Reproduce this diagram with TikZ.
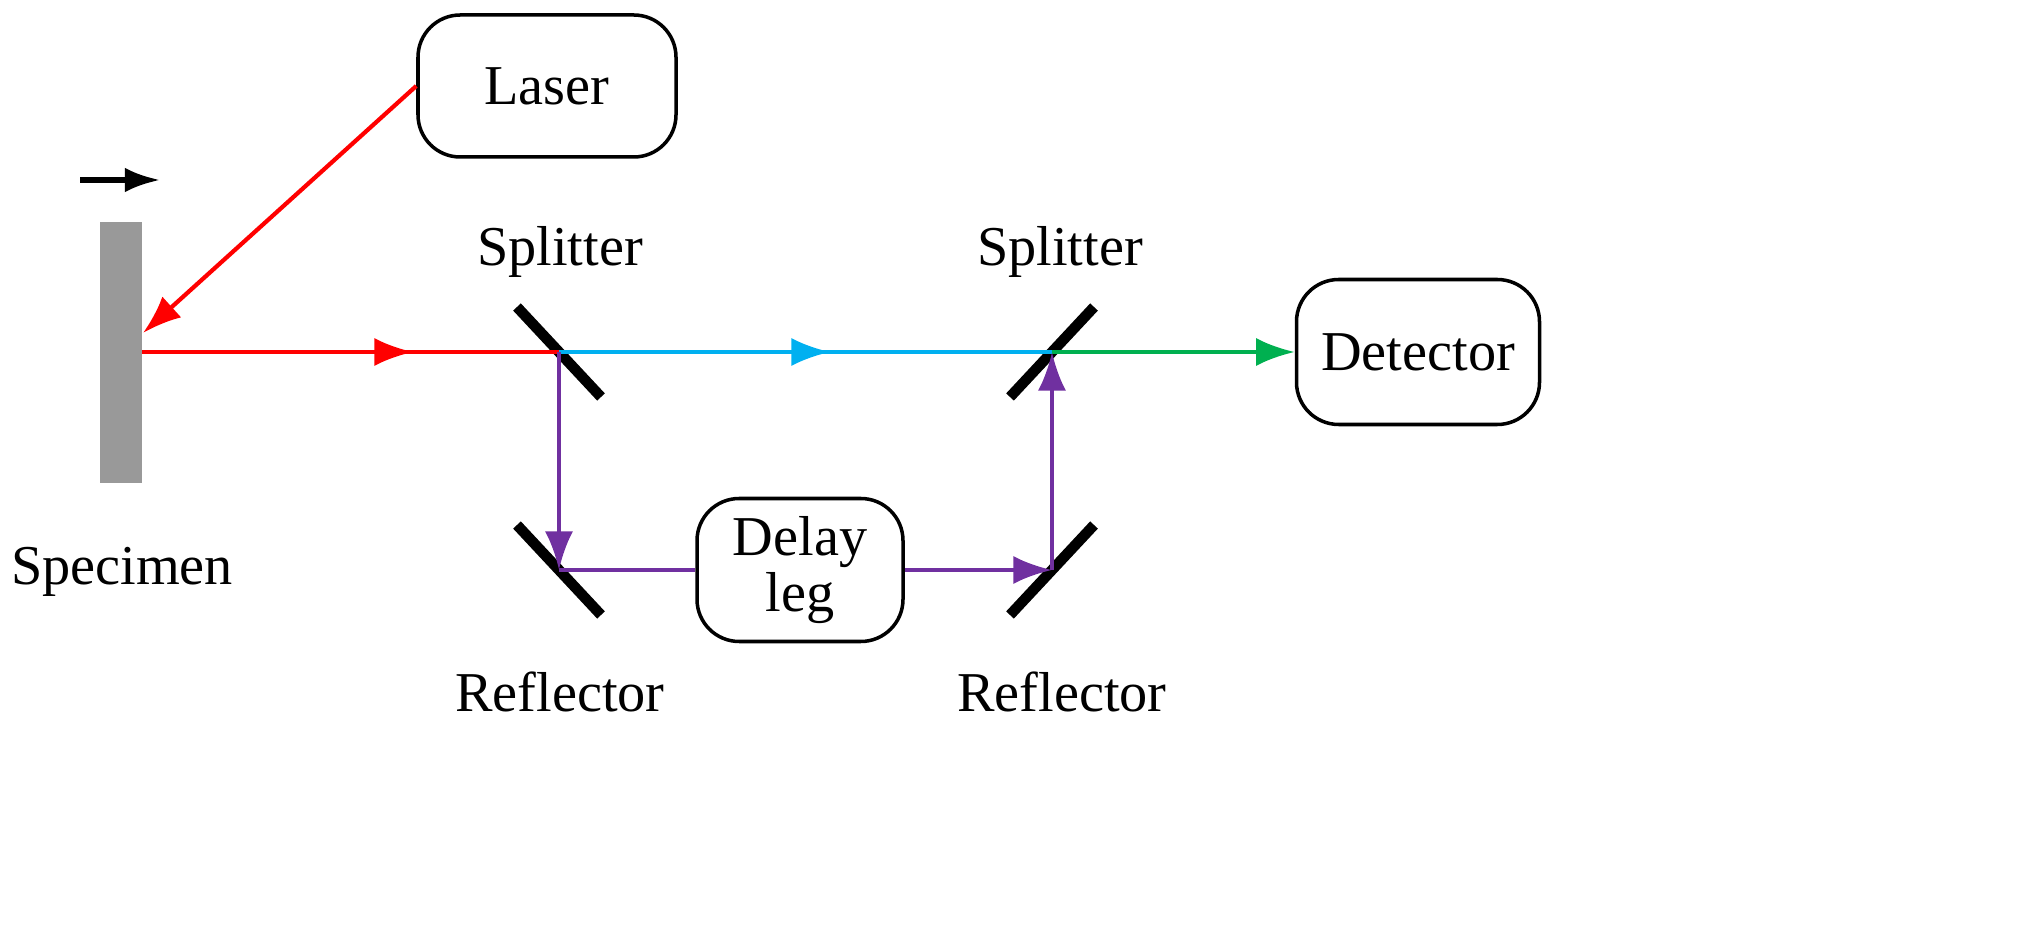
\documentclass[tikz,border=0pt]{standalone}
\usepackage{fontspec}
\setmainfont{Liberation Serif}
\usetikzlibrary{arrows.meta,decorations.markings}
\definecolor{beamred}{RGB}{255,0,0}
\definecolor{beamblue}{RGB}{0,176,240}
\definecolor{beamgreen}{RGB}{0,176,80}
\definecolor{beampurple}{RGB}{112,48,160}
\tikzset{
  box/.style={draw, rounded corners=12pt, line width=1pt, inner sep=0pt, font=\fontsize{16}{20}\selectfont, align=center},
  lbl/.style={inner sep=0pt, font=\fontsize{16}{20}\selectfont},
  mirror/.style={line width=3pt},
  beam/.style={line width=1.2pt, -{Latex[length=11pt,width=8pt]}},
  midarrow/.style={line width=1.2pt, postaction={decorate}, decoration={markings,
    mark=at position #1 with {\arrow{Latex[length=11pt,width=8pt]}}}}
}
\begin{document}
\begin{tikzpicture}[x=0.01cm,y=-0.01cm]
\useasboundingbox (0,0) rectangle (2021,931);
% boxes
\node [box, minimum width=258*0.01cm, minimum height=142*0.01cm] (laser) at (547,86) {Laser};
\node [box, minimum width=243*0.01cm, minimum height=145*0.01cm] (det) at (1418,352) {Detector};
\node [box, minimum width=206*0.01cm, minimum height=143*0.01cm] (delay) at (800,570) {Delay\\[-4pt]leg};
% specimen
\fill [gray!80] (100,222) rectangle (142,483);
\coordinate (spec) at (142,352);
\coordinate (hit) at (143,333);
\draw [line width=1.5pt, -{Latex[length=10pt,width=7pt]}] (80,180) -- (160,180);
\node [lbl] (speclbl) at (122,572) {Specimen};
% mirrors
\coordinate (s1) at (559,352);
\coordinate (s2) at (1052,352);
\coordinate (r1) at (559,570);
\coordinate (r2) at (1052,570);
\draw [mirror] (517,307) -- (601,397);
\draw [mirror] (1010,397) -- (1094,307);
\draw [mirror] (517,525) -- (601,615);
\draw [mirror] (1010,615) -- (1094,525);
\node [lbl] (sp1) at (560,252) {Splitter};
\node [lbl] (sp2) at (1060,252) {Splitter};
\node [lbl] (rf1) at (560,692) {Reflector};
\node [lbl] (rf2) at (1062,692) {Reflector};
% beams
\draw [beam, beamred] (laser.west) -- (hit);
\draw [midarrow=0.65, beamred] (spec) -- (s1);
\draw [midarrow=0.55, beamblue] (s1) -- (s2);
\draw [beam, beamgreen] (s2) -- (det.west);
\draw [beam, beampurple] (s1) -- (r1);
\draw [line width=1.2pt, beampurple] (r1) -- (delay.west);
\draw [beam, beampurple] (delay.east) -- (r2);
\draw [beam, beampurple] (r2) -- (s2);
\end{tikzpicture}
\end{document}
